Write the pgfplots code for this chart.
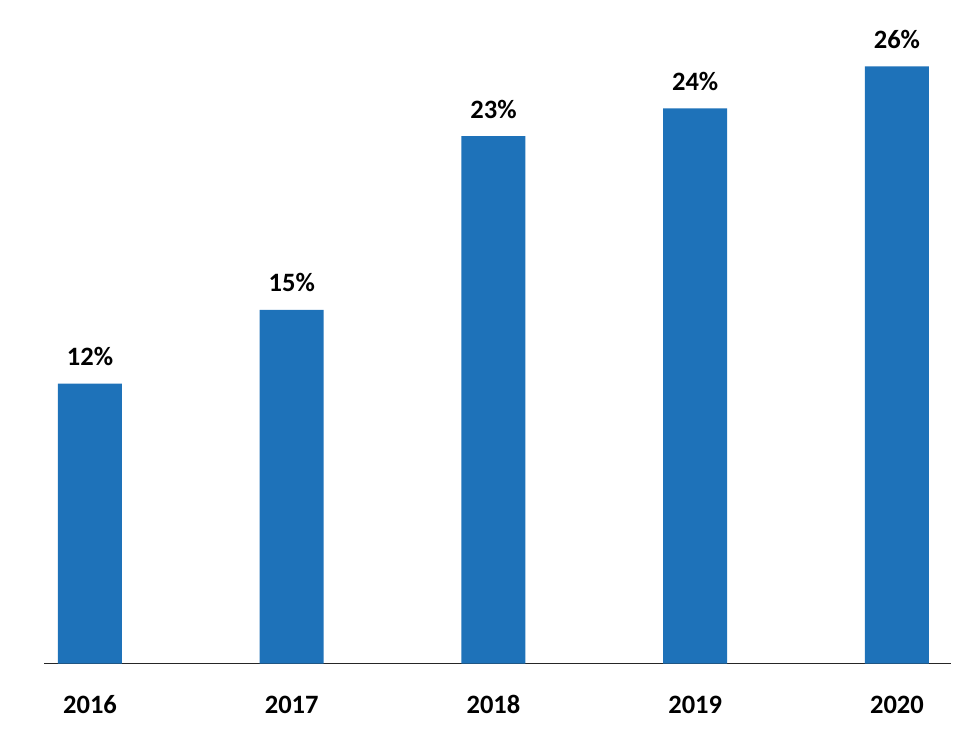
\documentclass[border=0pt]{standalone}
\usepackage{pgfplots}
\pgfplotsset{compat=1.18}
\usepackage{fontspec}
\setmainfont{Carlito}
\definecolor{barblue}{RGB}{30,114,185}
\begin{document}
\begin{tikzpicture}
\begin{axis}[
  at={(0pt,0pt)}, anchor=south west,
  scale only axis,
  width=907pt, height=644pt,
  xmin=-0.228, xmax=4.268,
  ymin=0, ymax=28,
  axis x line*=bottom,
  axis y line=none,
  x axis line style={draw=black!85, line width=1.4pt, -},
  xtick={0,1,2,3,4},
  xticklabels={2016,2017,2018,2019,2020},
  xtick style={draw=none},
  xticklabel style={font=\fontsize{26.5}{30}\selectfont\bfseries, anchor=base, yshift=-45.5pt, inner sep=0pt},
  ytick=\empty,
  ybar, bar width=64pt,
  nodes near coords,
  point meta=explicit symbolic,
  every node near coord/.append style={font=\fontsize{26.5}{30}\selectfont\bfseries, anchor=base, yshift=18pt, inner sep=0pt},
]
\addplot[fill=barblue, draw=none] table[meta=label] {
x y label
0 12.17 12\%
1 15.37 15\%
2 22.93 23\%
3 24.14 24\%
4 25.96 26\%
};
\end{axis}
\useasboundingbox (-44pt,-78.5pt) rectangle (931pt,663.5pt);
\end{tikzpicture}
\end{document}
